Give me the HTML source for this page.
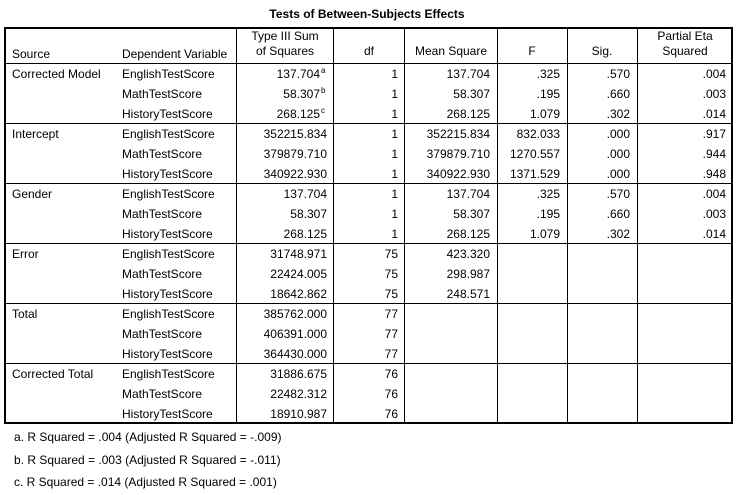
<!DOCTYPE html>
<html><head><meta charset="utf-8"><style>
body{margin:0;background:#fff;}
svg{display:block;font-family:"Liberation Sans",Arial,sans-serif;font-size:12px;fill:#000;}
.r{text-anchor:end}.c{text-anchor:middle}.s{text-anchor:start;font-size:8px}
</style></head><body>
<svg width="736" height="495" viewBox="0 0 736 495">
<rect width="736" height="495" fill="#fff"/>
<text x="367" y="18" class="c" font-weight="bold">Tests of Between-Subjects Effects</text>
<g stroke="#000" stroke-width="1">
<line x1="236.5" y1="28" x2="236.5" y2="423"/>
<line x1="333.5" y1="28" x2="333.5" y2="423"/>
<line x1="404.5" y1="28" x2="404.5" y2="423"/>
<line x1="497.5" y1="28" x2="497.5" y2="423"/>
<line x1="567.5" y1="28" x2="567.5" y2="423"/>
<line x1="637.5" y1="28" x2="637.5" y2="423"/>
<line x1="5" y1="63.5" x2="733" y2="63.5"/>
<line x1="5" y1="123.5" x2="733" y2="123.5"/>
<line x1="5" y1="183.5" x2="733" y2="183.5"/>
<line x1="5" y1="243.5" x2="733" y2="243.5"/>
<line x1="5" y1="303.5" x2="733" y2="303.5"/>
<line x1="5" y1="363.5" x2="733" y2="363.5"/>
</g>
<rect x="5" y="28" width="727" height="395" fill="none" stroke="#000" stroke-width="2"/>
<text x="12" y="58">Source</text>
<text x="122" y="58">Dependent Variable</text>
<text x="285" y="40" class="c">Type III Sum</text>
<text x="285" y="55" class="c">of Squares</text>
<text x="369" y="55" class="c">df</text>
<text x="451" y="55" class="c">Mean Square</text>
<text x="532" y="55" class="c">F</text>
<text x="602" y="55" class="c">Sig.</text>
<text x="685" y="40" class="c">Partial Eta</text>
<text x="685" y="55" class="c">Squared</text>

<text x="12" y="78">Corrected Model</text>
<text x="12" y="138">Intercept</text>
<text x="12" y="198">Gender</text>
<text x="12" y="258">Error</text>
<text x="12" y="318">Total</text>
<text x="12" y="378">Corrected Total</text>

<g>
<text x="122" y="78">EnglishTestScore</text><text x="122" y="98">MathTestScore</text><text x="122" y="118">HistoryTestScore</text>
<text x="122" y="138">EnglishTestScore</text><text x="122" y="158">MathTestScore</text><text x="122" y="178">HistoryTestScore</text>
<text x="122" y="198">EnglishTestScore</text><text x="122" y="218">MathTestScore</text><text x="122" y="238">HistoryTestScore</text>
<text x="122" y="258">EnglishTestScore</text><text x="122" y="278">MathTestScore</text><text x="122" y="298">HistoryTestScore</text>
<text x="122" y="318">EnglishTestScore</text><text x="122" y="338">MathTestScore</text><text x="122" y="358">HistoryTestScore</text>
<text x="122" y="378">EnglishTestScore</text><text x="122" y="398">MathTestScore</text><text x="122" y="418">HistoryTestScore</text>
</g>
<text x="320" y="78" class="r">137.704</text><text x="321" y="73" class="s">a</text>
<text x="320" y="98" class="r">58.307</text><text x="321" y="93" class="s">b</text>
<text x="320" y="118" class="r">268.125</text><text x="321" y="113" class="s">c</text>
<g>
<text x="327" y="138" class="r">352215.834</text>
<text x="327" y="158" class="r">379879.710</text>
<text x="327" y="178" class="r">340922.930</text>
<text x="327" y="198" class="r">137.704</text>
<text x="327" y="218" class="r">58.307</text>
<text x="327" y="238" class="r">268.125</text>
<text x="327" y="258" class="r">31748.971</text>
<text x="327" y="278" class="r">22424.005</text>
<text x="327" y="298" class="r">18642.862</text>
<text x="327" y="318" class="r">385762.000</text>
<text x="327" y="338" class="r">406391.000</text>
<text x="327" y="358" class="r">364430.000</text>
<text x="327" y="378" class="r">31886.675</text>
<text x="327" y="398" class="r">22482.312</text>
<text x="327" y="418" class="r">18910.987</text>

<text x="398" y="78" class="r">1</text><text x="398" y="98" class="r">1</text><text x="398" y="118" class="r">1</text>
<text x="398" y="138" class="r">1</text><text x="398" y="158" class="r">1</text><text x="398" y="178" class="r">1</text>
<text x="398" y="198" class="r">1</text><text x="398" y="218" class="r">1</text><text x="398" y="238" class="r">1</text>
<text x="398" y="258" class="r">75</text><text x="398" y="278" class="r">75</text><text x="398" y="298" class="r">75</text>
<text x="398" y="318" class="r">77</text><text x="398" y="338" class="r">77</text><text x="398" y="358" class="r">77</text>
<text x="398" y="378" class="r">76</text><text x="398" y="398" class="r">76</text><text x="398" y="418" class="r">76</text>

<text x="490" y="78" class="r">137.704</text><text x="490" y="98" class="r">58.307</text><text x="490" y="118" class="r">268.125</text>
<text x="490" y="138" class="r">352215.834</text><text x="490" y="158" class="r">379879.710</text><text x="490" y="178" class="r">340922.930</text>
<text x="490" y="198" class="r">137.704</text><text x="490" y="218" class="r">58.307</text><text x="490" y="238" class="r">268.125</text>
<text x="490" y="258" class="r">423.320</text><text x="490" y="278" class="r">298.987</text><text x="490" y="298" class="r">248.571</text>

<text x="560" y="78" class="r">.325</text><text x="560" y="98" class="r">.195</text><text x="560" y="118" class="r">1.079</text>
<text x="560" y="138" class="r">832.033</text><text x="560" y="158" class="r">1270.557</text><text x="560" y="178" class="r">1371.529</text>
<text x="560" y="198" class="r">.325</text><text x="560" y="218" class="r">.195</text><text x="560" y="238" class="r">1.079</text>

<text x="630" y="78" class="r">.570</text><text x="630" y="98" class="r">.660</text><text x="630" y="118" class="r">.302</text>
<text x="630" y="138" class="r">.000</text><text x="630" y="158" class="r">.000</text><text x="630" y="178" class="r">.000</text>
<text x="630" y="198" class="r">.570</text><text x="630" y="218" class="r">.660</text><text x="630" y="238" class="r">.302</text>

<text x="726" y="78" class="r">.004</text><text x="726" y="98" class="r">.003</text><text x="726" y="118" class="r">.014</text>
<text x="726" y="138" class="r">.917</text><text x="726" y="158" class="r">.944</text><text x="726" y="178" class="r">.948</text>
<text x="726" y="198" class="r">.004</text><text x="726" y="218" class="r">.003</text><text x="726" y="238" class="r">.014</text>
</g>
<text x="14" y="441">a. R Squared = .004 (Adjusted R Squared = -.009)</text>
<text x="14" y="464">b. R Squared = .003 (Adjusted R Squared = -.011)</text>
<text x="14" y="486">c. R Squared = .014 (Adjusted R Squared = .001)</text>
</svg>
</body></html>
